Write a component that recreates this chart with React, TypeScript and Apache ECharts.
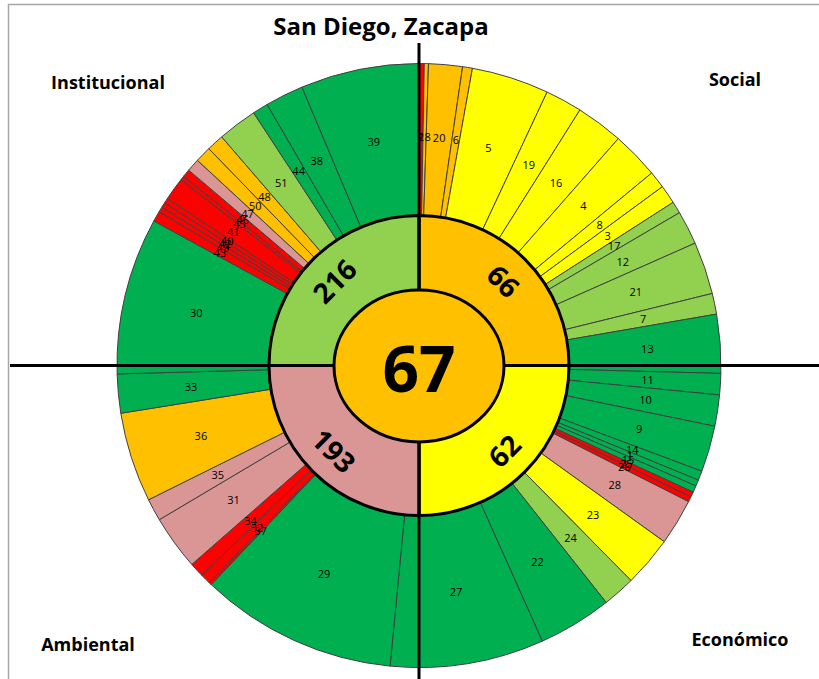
import { useEffect, useRef } from 'react';
import * as echarts from 'echarts';

const chartTitle = 'San Diego, Zacapa';
const dimensions = ['Social', 'Económico', 'Ambiental', 'Institucional'];
const dimensionScores = [66, 62, 193, 216];
const dimensionLevels = [3, 4, 2, 5];
const overallScore = 67;
const overallLevel = 3;

// level: 1 rojo, 2 rosado, 3 naranja, 4 amarillo, 5 verde claro, 6 verde
const socialLabels = ['2', '18', '20', '6', '5', '19', '16', '4', '8', '3', '17', '12', '21', '7', '13'];
const socialValues = [1.0, 0.8, 6.5, 1.9, 14.9, 7.1, 9.1, 9.1, 3.3, 3.6, 2.3, 6.5, 10.1, 4.0, 11.3];
const socialLevels = [1, 3, 3, 3, 4, 4, 4, 4, 4, 4, 5, 5, 5, 5, 6];

const economicLabels = ['11', '10', '9', '14', '1', '15', '25', '26', '28', '23', '24', '22', '27'];
const economicValues = [4.1, 6.0, 8.9, 1.8, 1.2, 1.3, 1.0, 1.0, 8.9, 9.7, 6.3, 14.2, 29.6];
const economicLevels = [6, 6, 6, 6, 6, 6, 1, 1, 2, 4, 5, 6, 6];

const ambientalLabels = ['29', '37', '32', '34', '31', '35', '36', '33', '30'];
const ambientalValues = [38.0, 0.5, 2.0, 2.8, 10.5, 4.3, 17.3, 7.5, 30.2];
const ambientalLevels = [6, 1, 1, 1, 2, 2, 3, 6, 6];

const institutionalLabels = ['43', '49', '42', '40', '41', '45', '46', '47', '50', '48', '51', '44', '38', '39'];
const institutionalValues = [2.0, 1.0, 1.0, 1.0, 4.4, 0.8, 1.5, 2.5, 3.1, 3.3, 7.6, 3.0, 7.4, 22.8];
const institutionalLevels = [1, 1, 1, 1, 1, 1, 1, 2, 3, 3, 5, 6, 6, 6];

const palette: Record<number, string> = {
  1: '#FF0000',
  2: '#DA9694',
  3: '#FFC000',
  4: '#FFFF00',
  5: '#92D050',
  6: '#00B050',
};

const CX = 419;
const CY = 365.5;
const FONT = '"Open Sans", "Noto Sans", sans-serif';

export default function App() {
  const ref = useRef<HTMLDivElement>(null);
  useEffect(() => {
    if (!ref.current) return;
    const chart = echarts.init(ref.current, undefined, { renderer: 'svg' });

    const outerLabels = [...socialLabels, ...economicLabels, ...ambientalLabels, ...institutionalLabels];
    const outerValues = [...socialValues, ...economicValues, ...ambientalValues, ...institutionalValues];
    const outerLevels = [...socialLevels, ...economicLevels, ...ambientalLevels, ...institutionalLevels];
    const outerData = outerLabels.map((name, i) => ({
      name,
      value: outerValues[i],
      itemStyle: { color: palette[outerLevels[i]] },
    }));

    const middleData = dimensions.map((d, i) => ({
      name: String(dimensionScores[i]),
      value: 1,
      itemStyle: { color: palette[dimensionLevels[i]] },
    }));

    const cornerPos: Record<string, [number, number]> = {
      Social: [735, 79],
      'Económico': [740, 639],
      Ambiental: [88, 644],
      Institucional: [108, 82],
    };

    chart.setOption({
      animation: false,
      backgroundColor: '#ffffff',
      series: [
        {
          type: 'pie',
          center: [CX, CY],
          radius: [150, 302],
          startAngle: 90,
          clockwise: true,
          avoidLabelOverlap: false,
          minAngle: 0,
          silent: true,
          z: 2,
          itemStyle: { borderColor: '#404040', borderWidth: 1 },
          label: {
            show: true,
            position: 'inside',
            formatter: '{b}',
            color: '#000',
            fontSize: 11,
            fontFamily: FONT,
          },
          labelLayout: { hideOverlap: false },
          labelLine: { show: false },
          data: outerData,
        },
        {
          type: 'pie',
          center: [CX, CY],
          radius: [0, 150],
          startAngle: 90,
          clockwise: true,
          silent: true,
          z: 3,
          itemStyle: { borderColor: '#000', borderWidth: 3 },
          label: { show: false },
          labelLine: { show: false },
          data: middleData,
        },
        {
          type: 'pie',
          center: [CX, CY],
          radius: [84, 150],
          startAngle: 90,
          clockwise: true,
          silent: true,
          z: 4,
          itemStyle: { color: 'rgba(0,0,0,0)', borderWidth: 0 },
          label: {
            show: true,
            position: 'inside',
            formatter: '{b}',
            rotate: 'tangential',
            color: '#000',
            fontSize: 28,
            fontWeight: 'bold',
            fontFamily: FONT,
          },
          labelLayout: { hideOverlap: false },
          labelLine: { show: false },
          data: middleData.map((d) => ({ name: d.name, value: 1 })),
        },
      ],
      graphic: [
        {
          type: 'rect',
          z: 50,
          shape: { x: 8.5, y: 4.5, width: 900, height: 900 },
          style: { fill: 'none', stroke: '#a6a6a6', lineWidth: 1.5 },
        },
        {
          type: 'line',
          z: 100,
          shape: { x1: 10, y1: CY, x2: 819, y2: CY },
          style: { stroke: '#000', lineWidth: 3 },
        },
        {
          type: 'line',
          z: 100,
          shape: { x1: CX, y1: 43, x2: CX, y2: 679 },
          style: { stroke: '#000', lineWidth: 3 },
        },
        {
          type: 'ellipse',
          z: 110,
          shape: { cx: CX, cy: CY + 0.5, rx: 85, ry: 76 },
          style: { fill: palette[overallLevel], stroke: '#000', lineWidth: 3 },
        },
        {
          type: 'text',
          z: 120,
          x: CX,
          y: CY + 2,
          style: {
            text: String(overallScore),
            fill: '#000',
            font: `bold 64px ${FONT}`,
            textAlign: 'center',
            textVerticalAlign: 'middle',
          },
        },
        {
          type: 'text',
          z: 120,
          x: 381,
          y: 25,
          style: {
            text: chartTitle,
            fill: '#000',
            font: `bold 24px ${FONT}`,
            textAlign: 'center',
            textVerticalAlign: 'middle',
          },
        },
        ...dimensions.map((d) => ({
          type: 'text',
          z: 120,
          x: cornerPos[d][0],
          y: cornerPos[d][1],
          style: {
            text: d,
            fill: '#000',
            font: `bold 18px ${FONT}`,
            textAlign: 'center',
            textVerticalAlign: 'middle',
          },
        })),
      ],
    });
    return () => chart.dispose();
  }, []);

  return (
    <div
      ref={ref}
      style={{ position: 'fixed', left: 0, top: 0, width: 819, height: 679, background: '#fff' }}
    />
  );
}
